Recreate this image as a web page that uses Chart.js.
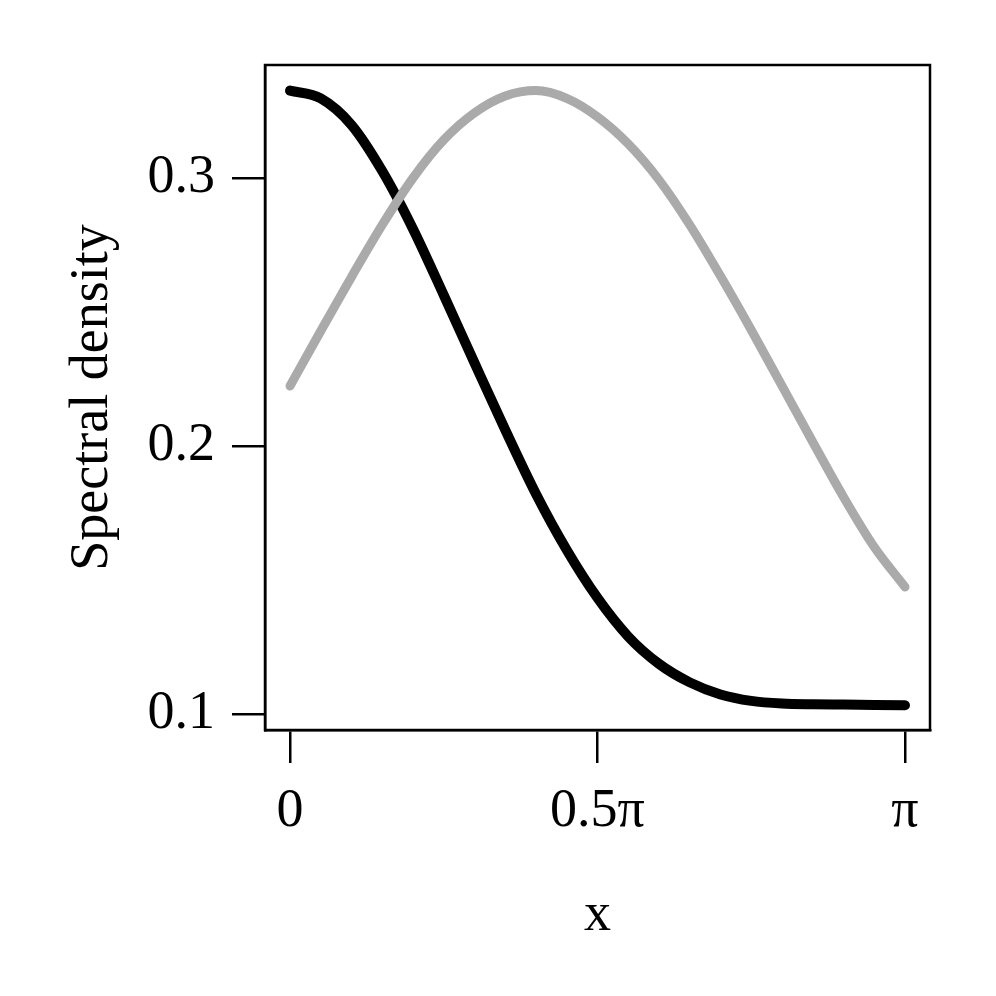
<!DOCTYPE html>
<html>
<head>
<meta charset="utf-8">
<script src="https://cdn.jsdelivr.net/npm/chart.js@4"></script>
<style>
  html, body { margin: 0; padding: 0; background: #fff; }
  canvas { display: block; }
</style>
</head>
<body>
<canvas id="myChart" width="996" height="996"></canvas>
<script>
// x in units of pi
const xs = [0, 0.05, 0.1, 0.15, 0.2, 0.25, 0.3, 0.35, 0.4, 0.45, 0.5,
            0.55, 0.6, 0.65, 0.7, 0.75, 0.8, 0.85, 0.9, 0.95, 1];
const blackCurve = [0.3326, 0.3297, 0.3198, 0.3026, 0.2810, 0.2563, 0.2310, 0.2060, 0.1821, 0.1612, 0.1433,
                    0.1289, 0.1187, 0.1118, 0.1073, 0.1049, 0.1039, 0.1036, 0.1035, 0.1034, 0.1033];
const grayCurve = [0.2224, 0.2429, 0.2631, 0.2825, 0.3000, 0.3142, 0.3243, 0.3306, 0.3326, 0.3297, 0.3228,
                   0.3127, 0.2993, 0.2825, 0.2634, 0.2433, 0.2224, 0.2015, 0.1810, 0.1623, 0.1474];
const xTicks = [0, 0.5, 1];
const xTickLabels = ['0', '0.5\u03c0', '\u03c0'];
const yTicks = [0.1, 0.2, 0.3];
const yTickLabels = ['0.1', '0.2', '0.3'];

const ctx = document.getElementById('myChart');
const serif = "'Liberation Serif', 'Times New Roman', serif";

const pts = (ys) => xs.map((x, i) => ({ x: x, y: ys[i] }));

// box around the plot region
const frame = {
    id: 'frame',
    afterDatasetsDraw(chart) {
        const a = chart.chartArea;
        const c = chart.ctx;
        c.save();
        c.strokeStyle = '#000';
        c.lineWidth = 2.5;
        c.strokeRect(a.left, a.top, a.right - a.left, a.bottom - a.top);
        c.restore();
    }
};

new Chart(ctx, {
    type: 'line',
    data: {
        datasets: [{
            data: pts(grayCurve),
            borderColor: '#aaaaaa',
            borderWidth: 9,
            borderCapStyle: 'round',
            order: 0
        }, {
            data: pts(blackCurve),
            borderColor: '#000000',
            borderWidth: 10,
            borderCapStyle: 'round',
            order: 1
        }]
    },
    options: {
        responsive: false,
        animation: false,
        events: [],
        layout: { padding: { left: 0, right: 66, top: 65, bottom: 0 } },
        elements: {
            point: { radius: 0 },
            line: { cubicInterpolationMode: 'monotone', borderJoinStyle: 'round' }
        },
        plugins: {
            legend: { display: false },
            tooltip: { enabled: false }
        },
        scales: {
            x: {
                type: 'linear',
                min: -0.04065,
                max: 1.04065,
                afterBuildTicks: (s) => { s.ticks = xTicks.map(v => ({ value: v })); },
                afterFit: (s) => { s.height = 266; },
                ticks: {
                    color: '#000',
                    font: { family: serif, size: 54 },
                    padding: 16,
                    maxRotation: 0,
                    callback: (v) => xTickLabels[xTicks.indexOf(v)]
                },
                grid: { drawOnChartArea: false, tickLength: 33, color: '#000', lineWidth: 2.5 },
                border: { display: true, color: '#000', width: 2.5 },
                title: {
                    display: true,
                    text: 'x',
                    color: '#000',
                    font: { family: serif, size: 54 },
                    padding: { top: 0, bottom: 48 }
                }
            },
            y: {
                type: 'linear',
                min: 0.09403,
                max: 0.34216,
                afterBuildTicks: (s) => { s.ticks = yTicks.map(v => ({ value: v })); },
                afterFit: (s) => { s.width = 265; },
                ticks: {
                    color: '#000',
                    font: { family: serif, size: 54 },
                    padding: 17,
                    callback: (v) => yTickLabels[yTicks.indexOf(v)]
                },
                grid: { drawOnChartArea: false, tickLength: 33, color: '#000', lineWidth: 2.5 },
                border: { display: true, color: '#000', width: 2.5 },
                title: {
                    display: true,
                    text: 'Spectral density',
                    color: '#000',
                    font: { family: serif, size: 54 },
                    padding: { top: 60, bottom: 0 }
                }
            }
        }
    },
    plugins: [frame]
});
</script>
</body>
</html>
